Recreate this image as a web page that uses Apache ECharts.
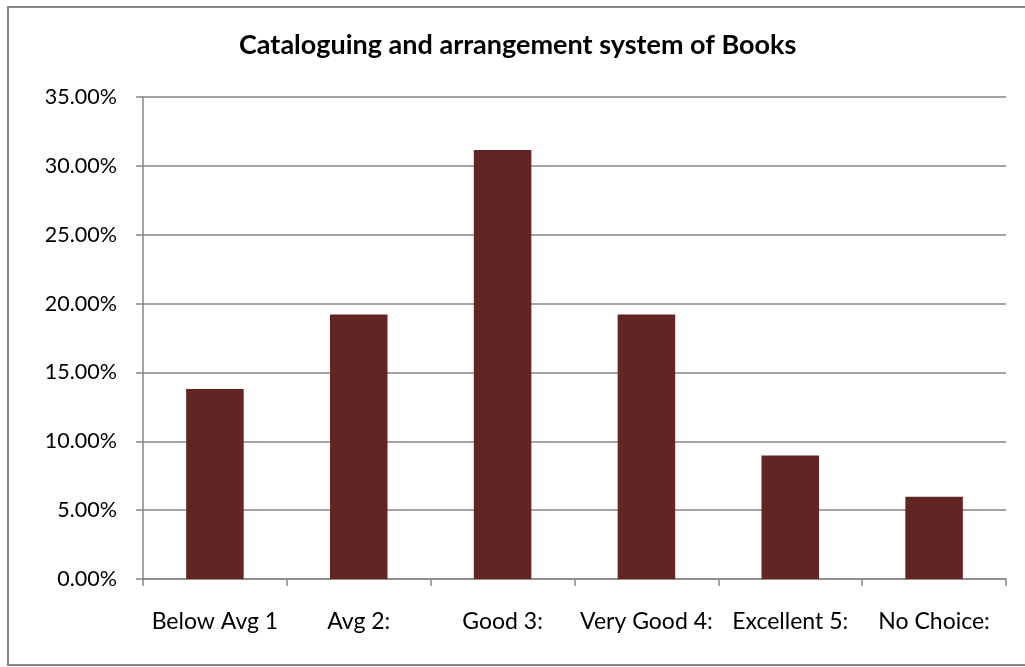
<!DOCTYPE html>
<html>
<head>
<meta charset="utf-8">
<script src="https://cdn.jsdelivr.net/npm/echarts@6/dist/echarts.min.js"></script>
<style>html,body{margin:0;padding:0;background:#fff}#c{width:1025px;height:667px}</style>
</head>
<body>
<div id="c"></div>
<script>
var categories = ['Below Avg 1', 'Avg 2:', 'Good 3:', 'Very Good 4:', 'Excellent 5:', 'No Choice:'];
var values = [13.8, 19.2, 31.15, 19.2, 8.96, 5.97];
var titleText = 'Cataloguing and arrangement system of Books';
var yTicks = { min: 0, max: 35, interval: 5 };

var chart = echarts.init(document.getElementById('c'), null, { renderer: 'canvas' });
var font = 'Lato, "Open Sans", sans-serif';
chart.setOption({
  animation: false,
  backgroundColor: '#fff',
  title: {
    text: titleText,
    left: 239,
    top: 32,
    padding: 0,
    textStyle: { fontFamily: font, fontSize: 27, fontWeight: 'bold', color: '#000' }
  },
  graphic: [{
    type: 'rect',
    shape: { x: 8, y: 7, width: 1040, height: 658 },
    style: { fill: 'none', stroke: '#868686', lineWidth: 2 },
    silent: true
  }],
  grid: { left: 143, right: 19, top: 97, bottom: 88, containLabel: false },
  xAxis: {
    type: 'category',
    data: categories,
    axisLine: { lineStyle: { color: '#868686', width: 1.5 } },
    axisTick: { show: true, alignWithLabel: false, length: 7, lineStyle: { color: '#868686', width: 1.5 } },
    axisLabel: { fontFamily: font, fontSize: 23, color: '#000', margin: 31, interval: 0 }
  },
  yAxis: {
    type: 'value',
    min: yTicks.min, max: yTicks.max, interval: yTicks.interval,
    axisLine: { show: true, lineStyle: { color: '#868686', width: 1.5 } },
    axisTick: { show: true, length: 7, lineStyle: { color: '#868686', width: 1.5 } },
    splitLine: { show: true, lineStyle: { color: '#868686', width: 1.5 } },
    axisLabel: {
      fontFamily: font, fontSize: 21.5, color: '#000', margin: 26,
      formatter: function (v) { return v.toFixed(2) + '%'; }
    }
  },
  series: [{
    type: 'bar',
    data: values,
    barWidth: '40%',
    itemStyle: { color: '#632523' }
  }]
});
</script>
</body>
</html>
